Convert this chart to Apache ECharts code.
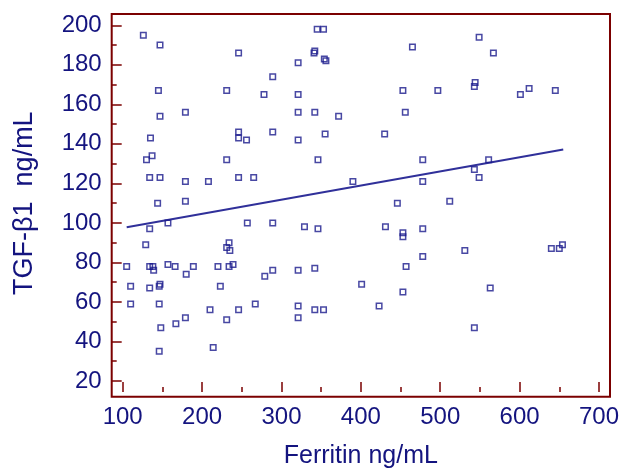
<!DOCTYPE html>
<html>
<head>
<meta charset="utf-8">
<script src="https://cdn.jsdelivr.net/npm/echarts@6/dist/echarts.min.js"></script>
<style>
html,body{margin:0;padding:0;background:#fff;}
#chart{width:622px;height:474px;}
</style>
</head>
<body>
<div id="chart"></div>
<script>
// Ferritin (ng/mL) values of each sample
const ferritin = [126,147,246,145,231,147,179,135,137,130,231,134,147,179,208,246,144,179,345,353,342,341,354,356,321,289,278,321,321,342,372,246,246,256,289,321,355,346,265,390,549,465,567,453,497,544,543,456,430,478,561,543,549,478,446,512,601,612,645,
  134,157,129,105,134,138,139,157,166,180,189,220,234,239,234,231,235,110,134,146,147,223,110,146,210,246,148,167,179,231,146,214,257,289,329,346,279,289,321,342,401,267,321,321,342,353,431,453,453,478,531,478,457,453,423,563,543,640,650,654];
// TGF-β1 (ng/mL) values of each sample
const tgfb1 = [195,190,186,167,167,154,156,143,134,132,132,123,123,121,121,123,110,111,198,198,187,186,183,182,181,174,165,165,156,156,154,146,143,142,146,142,145,132,123,121,194,189,186,167,167,171,169,156,145,132,132,127,123,121,110,111,165,168,167,
  97,100,89,78,78,78,76,79,78,74,78,78,78,79,90,87.5,86,68,67,68,69,68,59,59,56,56,47,49,52,51,35,37,100,100,98,97,73,76,76,77,69,59,58,52,56,56,98,95,93,97,86,83,78,65,58,67,47,87,87,89];
// regression line end points
const fitX = [105, 655];
const fitY = [97.8, 137.2];
// axis settings
const xTicks = {min: 100, max: 700, interval: 100};
const yTicks = {min: 20, max: 200, interval: 20};
const xName = 'Ferritin ng/mL';
const yName = 'TGF-β1  ng/mL';

const textColor = '#14147f';
const frameColor = '#7b0000';
const font = 'Liberation Sans, Arial, Helvetica, sans-serif';

const points = ferritin.map((v, i) => [v, tgfb1[i]]);
const fitLine = fitX.map((v, i) => [v, fitY[i]]);

const chart = echarts.init(document.getElementById('chart'));
chart.setOption({
  animation: false,
  backgroundColor: '#fff',
  grid: [
    {left: 111.7, right: 12, top: 14, bottom: 77.3, show: true, borderColor: frameColor, borderWidth: 2, backgroundColor: 'transparent'},
    {left: 122.7, right: 23, top: 25.3, bottom: 88}
  ],
  xAxis: [
    {gridIndex: 0, type: 'value', min: 0, max: 1, show: false},
    {gridIndex: 1, type: 'value', min: xTicks.min, max: xTicks.max, interval: xTicks.interval,
      offset: 11,
      axisLine: {show: false},
      axisTick: {show: true, inside: true, length: 10, lineStyle: {color: frameColor, width: 1.5}},
      minorTick: {show: true, splitNumber: 2, length: 5, lineStyle: {color: frameColor, width: 1.5}},
      splitLine: {show: false},
      axisLabel: {color: textColor, fontSize: 24, fontFamily: font, margin: 13},
      name: xName, nameLocation: 'middle', nameGap: 52,
      nameTextStyle: {color: textColor, fontSize: 25, fontFamily: font}
    }
  ],
  yAxis: [
    {gridIndex: 0, type: 'value', min: 0, max: 1, show: false},
    {gridIndex: 1, type: 'value', min: yTicks.min, max: yTicks.max, interval: yTicks.interval,
      offset: 11,
      axisLine: {show: false},
      axisTick: {show: true, inside: true, length: 10, lineStyle: {color: frameColor, width: 1.5}},
      minorTick: {show: true, splitNumber: 2, length: 5, lineStyle: {color: frameColor, width: 1.5}},
      splitLine: {show: false},
      axisLabel: {color: textColor, fontSize: 24, fontFamily: font, margin: 10},
      name: yName, nameLocation: 'middle', nameGap: 74,
      nameTextStyle: {color: textColor, fontSize: 27, fontFamily: font}
    }
  ],
  series: [
    {type: 'line', xAxisIndex: 1, yAxisIndex: 1, data: fitLine, showSymbol: false, silent: true,
      lineStyle: {color: '#30309a', width: 2}, z: 2},
    {type: 'scatter', xAxisIndex: 1, yAxisIndex: 1, data: points, symbol: 'rect', symbolSize: 5.5,
      itemStyle: {color: 'rgba(0,0,0,0)', borderColor: '#1a1a8c', borderWidth: 1.5}, z: 3}
  ]
});
</script>
</body>
</html>
